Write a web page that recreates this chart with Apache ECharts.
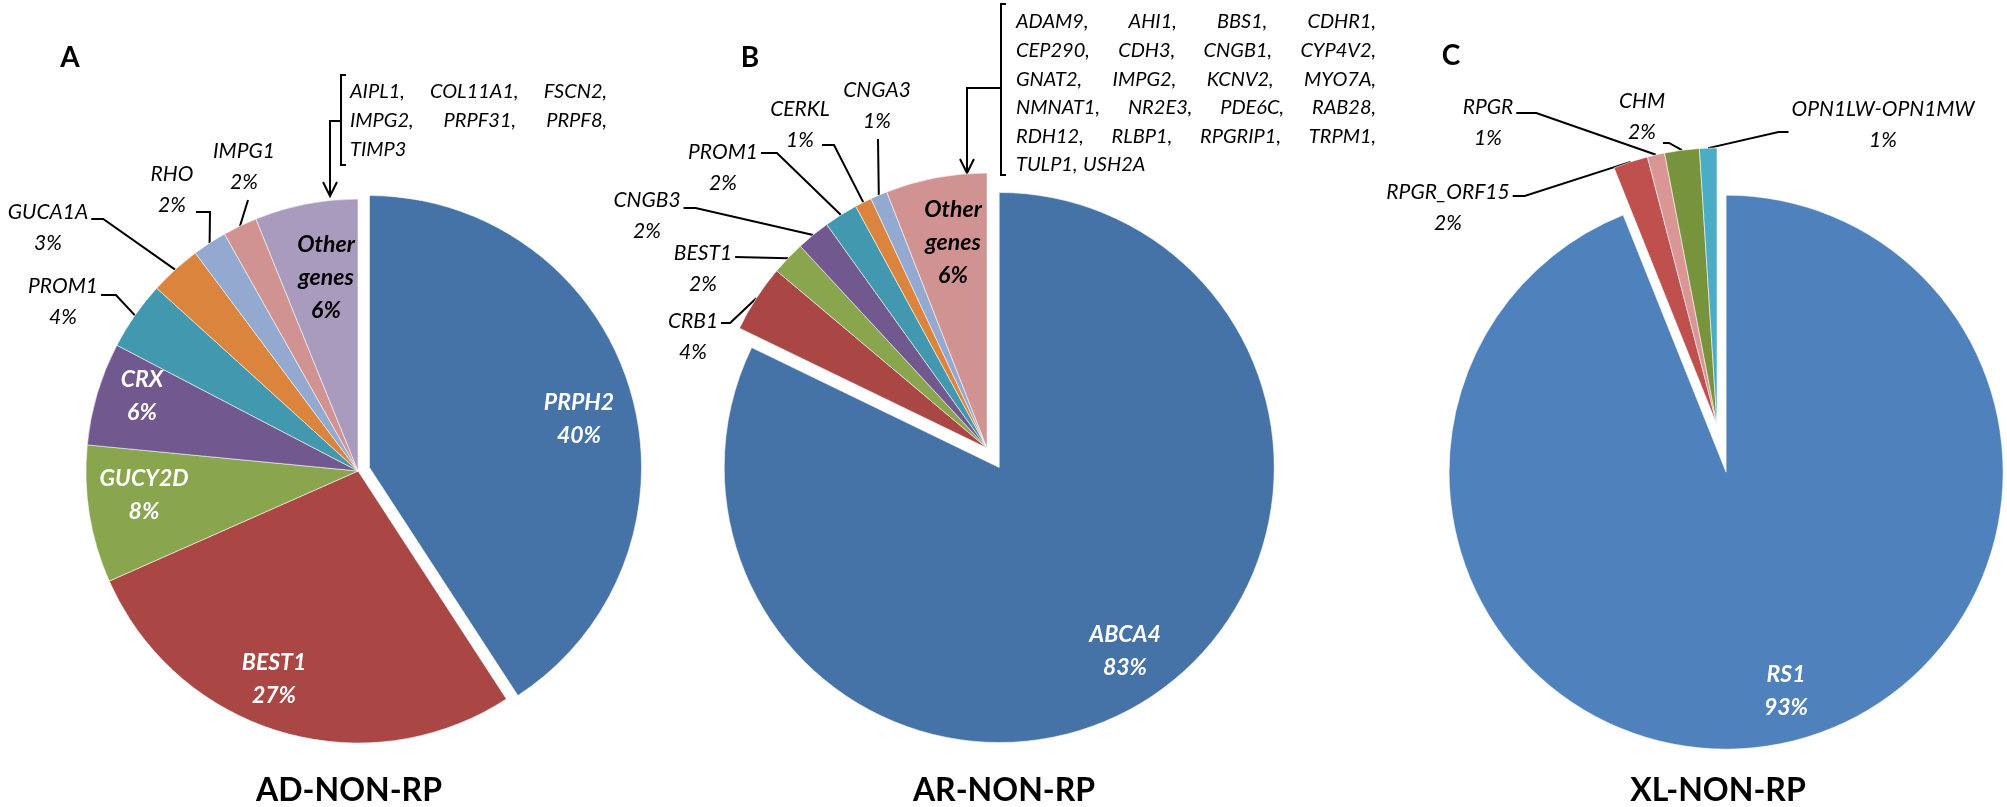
<!DOCTYPE html>
<html><head><meta charset="utf-8">
<script src="https://cdn.jsdelivr.net/npm/echarts@6/dist/echarts.min.js"></script>
<style>html,body{margin:0;padding:0;background:#fff}#chart{width:2007px;height:807px}</style>
</head><body><div id="chart"></div>
<script>
// ---------------- data ----------------
const adGenes  = ['PRPH2','BEST1','GUCY2D','CRX','PROM1','GUCA1A','RHO','IMPG1','Other genes'];
const adValues = [40, 27, 8, 6, 4, 3, 2, 2, 6];
const arGenes  = ['ABCA4','CRB1','BEST1','CNGB3','PROM1','CERKL','CNGA3','Other genes'];
const arValues = [83, 4, 2, 2, 2, 1, 1, 6];
const xlGenes  = ['RS1','RPGR_ORF15','RPGR','CHM','OPN1LW-OPN1MW'];
const xlValues = [93, 2, 1, 2, 1];
const panelTitles  = ['AD-NON-RP','AR-NON-RP','XL-NON-RP'];
const panelLetters = ['A','B','C'];
const adOtherList = [['AIPL1,','COL11A1,','FSCN2,'],['IMPG2,','PRPF31,','PRPF8,'],['TIMP3']];
const arOtherList = [['ADAM9,','AHI1,','BBS1,','CDHR1,'],['CEP290,','CDH3,','CNGB1,','CYP4V2,'],
  ['GNAT2,','IMPG2,','KCNV2,','MYO7A,'],['NMNAT1,','NR2E3,','PDE6C,','RAB28,'],
  ['RDH12,','RLBP1,','RPGRIP1,','TRPM1,'],['TULP1,','USH2A']];

// ---------------- styles / layout ----------------
const FONT = 'Lato, "Liberation Sans", Arial, sans-serif';
const adColors = ['#4572A7','#AA4643','#89A54E','#71588F','#4198AF','#DB843D','#93A9CF','#D19392','#A99BBD'];
const arColors = ['#4572A7','#AA4643','#89A54E','#71588F','#4198AF','#DB843D','#93A9CF','#D19392'];
const xlColors = ['#4F81BD','#C0504D','#D99694','#77933C','#4BACC6'];

// label placement relative to pie centre: [kind, dx, dy, side, attachDy|attachDx, stub, attachDx]
const labelPosA = [
  ['in', 221, -52], ['in', -84, 208], ['in', -214, 24], ['in', -216, -75],
  ['out', -295, -169, 'r', -7, 15], ['out', -310, -243, 'r', -9, 12],
  ['out', -186, -281, 'r', 22, 14, 24], ['out', -114, -304, 'b', 4], ['inD', -32, -193]
];
const labelPosB = [
  ['in', 138, 203],
  ['out', -294, -111, 'r', -14, 9], ['out', -284, -179, 'r', -12, 0],
  ['out', -340, -232, 'r', -8, 12], ['out', -264, -280, 'r', -15, 16],
  ['out', -187, -323, 'r', 20, 12, 22], ['out', -110, -342, 'b', 1], ['inD', -34, -205]
];
const labelPosC = [
  ['in', 69, 266],
  ['out', -269, -217, 'r', -12, 12], ['out', -229, -302, 'r', -10, 20],
  ['out', -75, -308, 'r', 26, 6, 21], ['out', 166, -300, 'l', 7, 10]
];

const pies = [
  {genes: adGenes, values: adValues, colors: adColors, center: [358, 471], r: 272, offset: 12, pos: labelPosA},
  {genes: arGenes, values: arValues, colors: arColors, center: [987, 448], r: 275, offset: 23, pos: labelPosB},
  {genes: xlGenes, values: xlValues, colors: xlColors, center: [1717, 425], r: 277, offset: 48, pos: labelPosC}
];
const EXPLODED = 0; // index of the pulled-out slice in each pie

const mctx = document.createElement('canvas').getContext('2d');
function textW(t, font) { mctx.font = font; return mctx.measureText(t).width; }

const OUT_FS = 21, OUT_LH = 31;
function labelText(name, value) { return name.replace(' ', '\n') + '\n' + value + '%'; }

function makeLayout(pi) {
  return function (params) {
    const pie = pies[pi];
    const i = params.dataIndex;
    const cfg = pie.pos[i];
    const x = pie.center[0] + cfg[1], y = pie.center[1] + cfg[2];
    const res = {x: x, y: y, align: 'center', verticalAlign: 'middle'};
    if (cfg[0] === 'out' && params.labelLinePoints && params.labelLinePoints.length) {
      const f = 'italic ' + OUT_FS + 'px ' + FONT;
      const w = Math.max(textW(pie.genes[i], f), textW(pie.values[i] + '%', f));
      const h = 2 * OUT_LH;
      const E = params.labelLinePoints[0];
      let A, B;
      if (cfg[3] === 'b') {
        A = [x + (cfg[4] || 0), y + h / 2 + 2]; B = A;
      } else {
        const sgn = cfg[3] === 'r' ? 1 : -1;
        const ax = cfg[6] != null ? x + cfg[6] : x + sgn * (w / 2 + 3);
        A = [ax, y + cfg[4]];
        B = [ax + sgn * cfg[5], y + cfg[4]];
      }
      res.labelLinePoints = [[E[0], E[1]], B, A];
    }
    return res;
  };
}

const baseLabel = {show: true, position: 'outside', overflow: 'none',
  formatter: function (p) { return labelText(p.name, p.value); },
  fontFamily: FONT, fontStyle: 'italic', fontSize: OUT_FS, lineHeight: OUT_LH, color: '#000'};

function insideLabel(kind) {
  return {show: true, fontSize: 23, fontWeight: 'bold', lineHeight: 33, color: kind === 'inD' ? '#000' : '#fff'};
}

// visible pie (with the exploded slice)
function buildSeries(pi) {
  const pie = pies[pi];
  const data = pie.genes.map(function (g, i) {
    const cfg = pie.pos[i];
    const inside = cfg[0] !== 'out';
    const item = {name: g, value: pie.values[i], selected: i === EXPLODED,
      itemStyle: {color: pie.colors[i]}, labelLine: {show: !inside}};
    if (i === EXPLODED) item.label = {show: false};
    else if (inside) item.label = insideLabel(cfg[0]);
    return item;
  });
  return {
    type: 'pie', center: pie.center, radius: pie.r, startAngle: 90, clockwise: true,
    selectedMode: 'single', selectedOffset: pie.offset, avoidLabelOverlap: false,
    animation: false, silent: true, z: 2,
    emphasis: {disabled: true, scale: false},
    itemStyle: {borderColor: 'rgba(255,255,255,0.55)', borderWidth: 1},
    label: baseLabel,
    labelLine: {show: true, length: 10, length2: 10, lineStyle: {color: '#000', width: 2}},
    labelLayout: makeLayout(pi),
    data: data
  };
}

// transparent twin pie carrying the label of the exploded slice
function buildLabelSeries(pi) {
  const pie = pies[pi];
  const data = pie.genes.map(function (g, i) {
    return {name: g, value: pie.values[i],
      label: i === EXPLODED ? insideLabel(pie.pos[i][0]) : {show: false},
      labelLine: {show: false}};
  });
  return {
    type: 'pie', center: pie.center, radius: pie.r, startAngle: 90, clockwise: true,
    avoidLabelOverlap: false, animation: false, silent: true, z: 3,
    emphasis: {disabled: true, scale: false},
    itemStyle: {color: 'rgba(0,0,0,0)', borderWidth: 0},
    label: baseLabel, labelLine: {show: false},
    labelLayout: makeLayout(pi),
    data: data
  };
}

// ---------------- annotations ----------------
const graphics = [];
function txt(x, y, t, font, align) {
  graphics.push({type: 'text', x: x, y: y, silent: true,
    style: {text: t, font: font, fill: '#000', align: align || 'left', verticalAlign: 'middle',
            textAlign: align || 'left', textVerticalAlign: 'middle'}});
}
function line(points) {
  graphics.push({type: 'polyline', silent: true, shape: {points: points},
    style: {stroke: '#000', lineWidth: 2, fill: null}});
}
function justified(lines, left, right, top, step) {
  const f = 'italic 20px ' + FONT;
  lines.forEach(function (words, li) {
    const y = top + li * step;
    const last = li === lines.length - 1;
    const ws = words.map(function (w) { return textW(w, f); });
    const total = ws.reduce(function (a, b) { return a + b; }, 0);
    const gap = (!last && words.length > 1) ? (right - left - total) / (words.length - 1) : textW(' ', f) * 1.2;
    let x = left;
    words.forEach(function (w, k) { txt(x, y, w, f, 'left'); x += ws[k] + gap; });
  });
}
// panel A list with bracket and arrow
justified(adOtherList, 350, 607, 92, 29);
line([[346, 75], [341, 75], [341, 165], [346, 165]]);
line([[341, 121], [330, 121], [330, 195]]);
line([[323, 182], [330, 196], [337, 182]]);
// panel B list with bracket and arrow
justified(arOtherList, 1016, 1376, 22, 28.6);
line([[1006, 4], [1001, 4], [1001, 175], [1006, 175]]);
line([[1001, 88], [967, 88], [967, 172]]);
line([[960, 159], [967, 173], [974, 159]]);
// panel letters and titles
const letterPos = [[70, 58], [750, 58], [1451, 56]];
const titlePos = [[349, 791], [1004, 791], [1718, 791]];
panelLetters.forEach(function (l, i) { txt(letterPos[i][0], letterPos[i][1], l, 'bold 28px ' + FONT, 'center'); });
panelTitles.forEach(function (t, i) { txt(titlePos[i][0], titlePos[i][1], t, 'bold 32px ' + FONT, 'center'); });

const chart = echarts.init(document.getElementById('chart'), null, {renderer: 'canvas'});
chart.setOption({
  backgroundColor: '#ffffff',
  animation: false,
  series: [buildSeries(0), buildSeries(1), buildSeries(2),
           buildLabelSeries(0), buildLabelSeries(1), buildLabelSeries(2)],
  graphic: {elements: graphics}
});
</script>
</body></html>
